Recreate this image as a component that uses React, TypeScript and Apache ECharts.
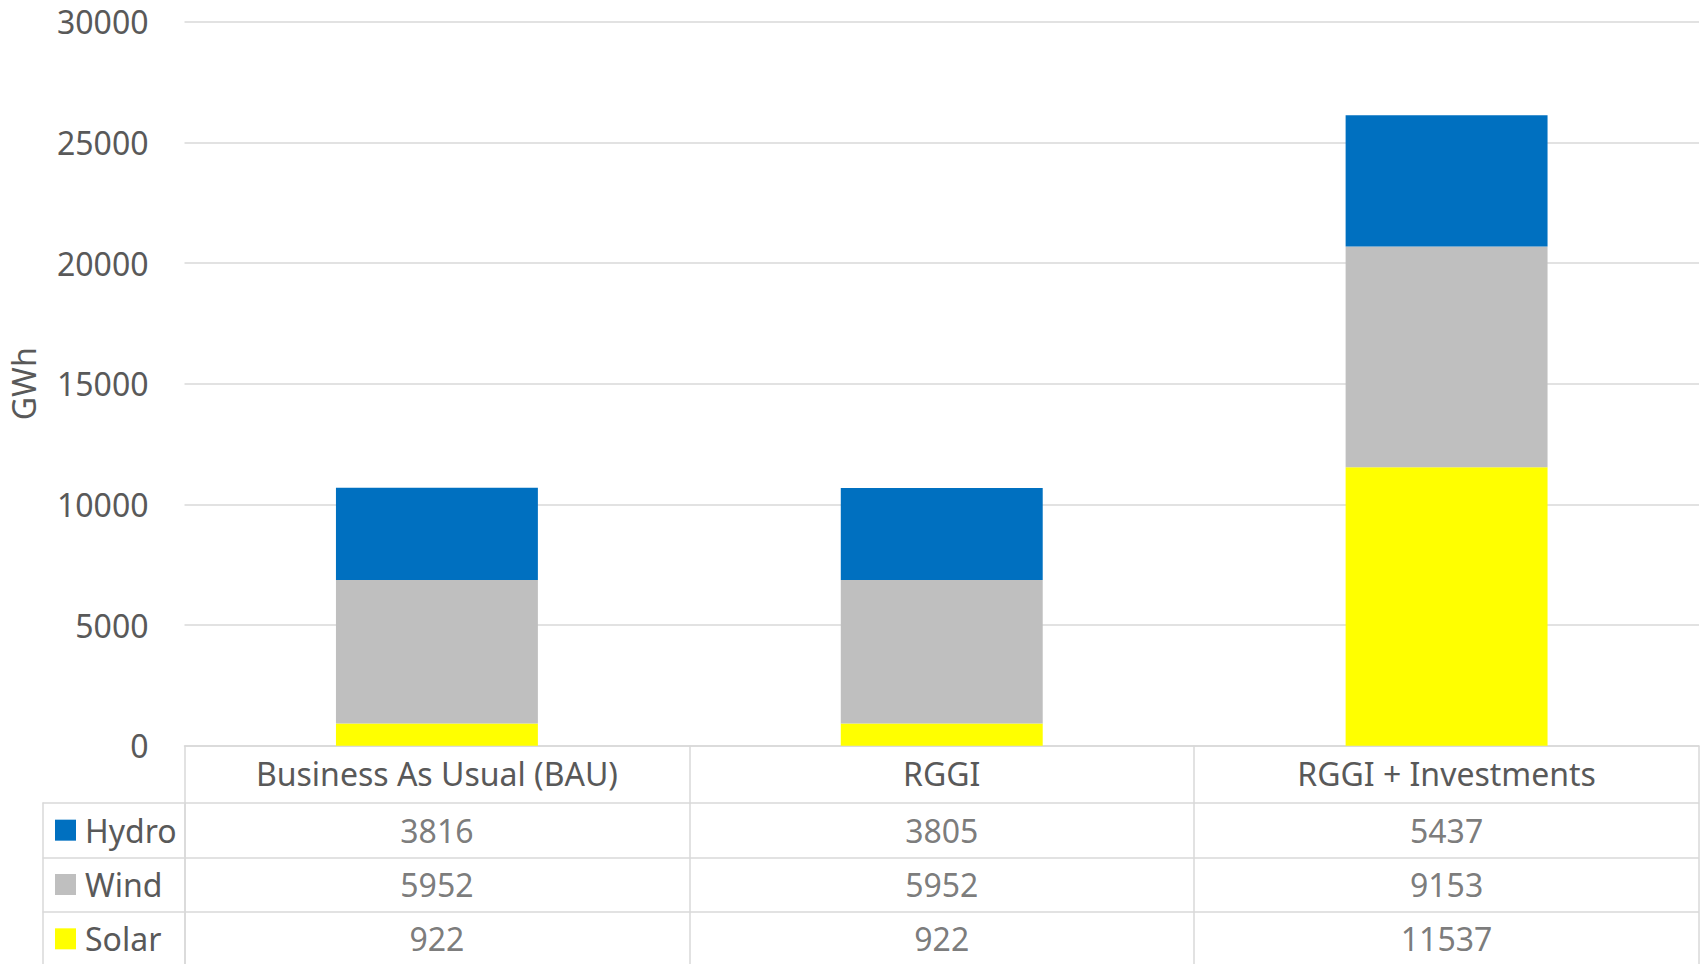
import React, { useEffect, useRef } from "react";
import * as echarts from "echarts";

const categories = ["Business As Usual (BAU)", "RGGI", "RGGI + Investments"];
const seriesNames = ["Hydro", "Wind", "Solar"];
const hydro = [3816, 3805, 5437];
const wind = [5952, 5952, 9153];
const solar = [922, 922, 11537];
const yTicks = { min: 0, max: 30000, interval: 5000 };

const COLORS: Record<string, string> = { Hydro: "#0070C0", Wind: "#BFBFBF", Solar: "#FFFF00" };
const TEXT = "#595959";
const LINE = "#D9D9D9";
const FONT = "'Noto Sans', 'Open Sans', sans-serif";
const FS = 32;

export default function App() {
  const ref = useRef<HTMLDivElement>(null);
  useEffect(() => {
    if (!ref.current) return;
    const chart = echarts.init(ref.current, undefined, { renderer: "svg" });
    const rowValues: Record<string, number[]> = { Hydro: hydro, Wind: wind, Solar: solar };
    const tableData: any[] = [];
    seriesNames.forEach((r) => {
      categories.forEach((c, ci) => {
        tableData.push([c, r, rowValues[r][ci]]);
      });
    });
    const rich: any = {};
    seriesNames.forEach((n) => {
      rich["b" + n] = { width: 21, height: 21, backgroundColor: COLORS[n] };
    });
    rich.t = { fontSize: FS, fontFamily: FONT, color: TEXT, padding: [0, 0, 0, 9] };

    chart.setOption({
      animation: false,
      textStyle: { fontFamily: FONT },
      grid: [
        {
          left: 184.5,
          right: 3,
          top: 21.7,
          bottom: 964 - 745.8,
          containLabel: false,
          outerBoundsMode: "none",
        },
        {
          left: 184.5,
          right: 3,
          top: 803,
          height: 163,
          containLabel: false,
          outerBoundsMode: "none",
        },
      ],
      xAxis: [
        {
          type: "category",
          gridIndex: 0,
          data: categories,
          axisLine: { show: true, lineStyle: { color: LINE, width: 1.5 } },
          axisTick: { show: true, length: 57.5, lineStyle: { color: LINE, width: 1.5 } },
          axisLabel: { interval: 0, fontSize: FS, color: TEXT, fontFamily: FONT, margin: 12 },
        },
        {
          type: "category",
          gridIndex: 1,
          data: categories,
          axisLine: { show: false },
          axisTick: { show: false },
          axisLabel: { show: false },
          splitLine: { show: true, lineStyle: { color: LINE, width: 1.5 } },
        },
      ],
      yAxis: [
        {
          type: "value",
          gridIndex: 0,
          min: yTicks.min,
          max: yTicks.max,
          interval: yTicks.interval,
          name: "GWh",
          nameLocation: "middle",
          nameRotate: 90,
          nameGap: 145,
          nameTextStyle: { fontSize: FS, color: TEXT, fontFamily: FONT },
          axisLabel: {
            fontSize: FS,
            color: TEXT,
            fontFamily: FONT,
            margin: 36,
            formatter: (v: number) => String(v),
          },
          splitLine: { lineStyle: { color: LINE, width: 1.5 } },
          axisLine: { show: false },
          axisTick: { show: false },
        },
        {
          type: "category",
          gridIndex: 1,
          data: seriesNames,
          inverse: true,
          axisLine: { show: true, lineStyle: { color: LINE, width: 1.5 } },
          axisTick: { show: true, length: 142, lineStyle: { color: LINE, width: 1.5 } },
          splitLine: { show: true, lineStyle: { color: LINE, width: 1.5 } },
          axisLabel: {
            align: "left",
            margin: 129.5,
            formatter: (v: string) => `{b${v}|}{t|${v}}`,
            rich,
          },
        },
        {
          type: "category",
          gridIndex: 1,
          data: seriesNames,
          inverse: true,
          position: "left",
          offset: 142,
          axisLine: { show: true, lineStyle: { color: LINE, width: 1.5 } },
          axisTick: { show: false },
          axisLabel: { show: false },
        },
      ],
      series: [
        {
          name: "Solar",
          type: "bar",
          stack: "total",
          barWidth: "40%",
          data: solar,
          itemStyle: { color: COLORS.Solar },
        },
        {
          name: "Wind",
          type: "bar",
          stack: "total",
          barWidth: "40%",
          data: wind,
          itemStyle: { color: COLORS.Wind },
        },
        {
          name: "Hydro",
          type: "bar",
          stack: "total",
          barWidth: "40%",
          data: hydro,
          itemStyle: { color: COLORS.Hydro },
        },
        {
          type: "scatter",
          xAxisIndex: 1,
          yAxisIndex: 1,
          symbolSize: 1,
          itemStyle: { color: "rgba(0,0,0,0)" },
          data: tableData,
          label: {
            show: true,
            position: "inside",
            fontSize: FS,
            color: TEXT,
            fontFamily: FONT,
            formatter: (p: any) => String(p.value[2]),
          },
          silent: true,
        },
      ],
    });
    return () => chart.dispose();
  }, []);
  return (
    <div
      ref={ref}
      style={{ position: "absolute", left: 0, top: 0, width: 1702, height: 964, background: "#fff" }}
    />
  );
}
